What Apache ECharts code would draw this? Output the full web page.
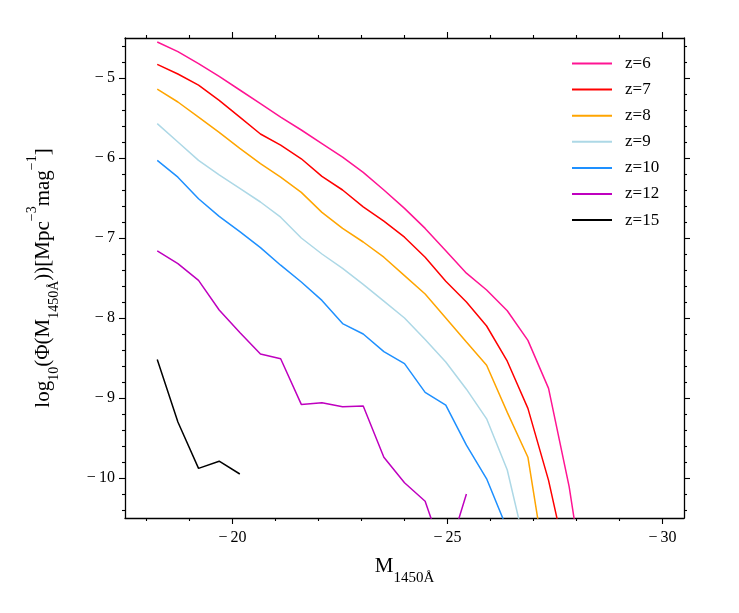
<!DOCTYPE html>
<html>
<head>
<meta charset="utf-8">
<script src="https://cdn.jsdelivr.net/npm/echarts@6/dist/echarts.min.js"></script>
<style>
html,body{margin:0;padding:0;background:#fff;}
#chart{width:739px;height:613px;}
</style>
</head>
<body>
<div id="chart"></div>
<script>
// Absolute magnitude grid (M_1450)
var magnitudes = [-18.25, -18.73, -19.21, -19.69, -20.17, -20.65, -21.12, -21.60, -22.08, -22.56, -23.04,
                  -23.52, -24.00, -24.48, -24.96, -25.44, -25.91, -26.39, -26.87, -27.35, -27.83, -28.31];

// log10 Phi per redshift
var z6  = [-4.55, -4.67, -4.82, -4.98, -5.15, -5.32, -5.49, -5.65, -5.82, -5.99, -6.18, -6.40, -6.63, -6.88, -7.16, -7.44, -7.65, -7.91, -8.28, -8.88, -10.11, -11.78];
var z7  = [-4.83, -4.95, -5.09, -5.28, -5.49, -5.70, -5.84, -6.01, -6.23, -6.40, -6.61, -6.79, -6.99, -7.24, -7.54, -7.80, -8.10, -8.54, -9.13, -10.03, -11.19];
var z8  = [-5.14, -5.30, -5.49, -5.68, -5.88, -6.07, -6.24, -6.43, -6.68, -6.88, -7.05, -7.24, -7.47, -7.70, -8.00, -8.30, -8.59, -9.18, -9.74, -11.35];
var z9  = [-5.57, -5.80, -6.03, -6.21, -6.38, -6.55, -6.74, -7.00, -7.20, -7.38, -7.58, -7.79, -8.00, -8.27, -8.55, -8.89, -9.26, -9.90, -11.00];
var z10 = [-6.03, -6.24, -6.51, -6.73, -6.92, -7.12, -7.34, -7.55, -7.78, -8.07, -8.20, -8.42, -8.57, -8.93, -9.09, -9.59, -10.01, -10.64];
var z12 = [-7.16, -7.32, -7.53, -7.90, -8.18, -8.45, -8.51, -9.08, -9.06, -9.11, -9.10, -9.74, -10.06, -10.29, -11.04, -10.20];
var z15 = [-8.52, -9.30, -9.88, -9.79, -9.95];

var seriesNames = ['z=6', 'z=7', 'z=8', 'z=9', 'z=10', 'z=12', 'z=15'];
var seriesValues = [z6, z7, z8, z9, z10, z12, z15];
var seriesColors = ['#ff1493', '#ff0000', '#ffa500', '#add8e6', '#1e90ff', '#bf00bf', '#000000'];

// Axis ticks
var xMajorTicks = [-20, -25, -30];
var yMajorTicks = [-5, -6, -7, -8, -9, -10];
var xMinorTicks = [];
for (var i = 18; i <= 30; i++) { if (i % 5 !== 0) xMinorTicks.push(-i); }
var yMinorTicks = [];
for (var j = 46; j <= 104; j += 2) { if (j % 10 !== 0) yMinorTicks.push(-j / 10); }

var FONT = 'Liberation Serif';
var XMIN = -30.5, XMAX = -17.5, YMIN = -10.5, YMAX = -4.5;

function fmt(v) { return (v < 0 ? '\u2212\u2009' : '') + Math.abs(v); }

function xAx(pos, ticks, len, showLabel, showLine, extra) {
  var a = {
    type: 'value', position: pos, min: XMIN, max: XMAX, inverse: true,
    splitLine: {show: false},
    axisLine: {show: showLine, onZero: false, lineStyle: {color: '#000', width: 1.3}},
    axisTick: {show: true, inside: false, length: len, customValues: ticks, lineStyle: {color: '#000', width: 1.1}},
    axisLabel: {show: showLabel, customValues: ticks, formatter: fmt, fontFamily: FONT, fontSize: 16, color: '#000', margin: 12}
  };
  if (extra) for (var k in extra) a[k] = extra[k];
  return a;
}
function yAx(pos, ticks, len, showLabel, showLine, extra) {
  var a = {
    type: 'value', position: pos, min: YMIN, max: YMAX,
    splitLine: {show: false},
    axisLine: {show: showLine, onZero: false, lineStyle: {color: '#000', width: 1.3}},
    axisTick: {show: true, inside: false, length: len, customValues: ticks, lineStyle: {color: '#000', width: 1.1}},
    axisLabel: {show: showLabel, customValues: ticks, formatter: fmt, fontFamily: FONT, fontSize: 16, color: '#000', margin: 10}
  };
  if (extra) for (var k in extra) a[k] = extra[k];
  return a;
}

var series = seriesNames.map(function (name, idx) {
  var vals = seriesValues[idx];
  return {
    name: name, type: 'line', xAxisIndex: 0, yAxisIndex: 0,
    symbol: 'none', clip: true, silent: true, animation: false,
    lineStyle: {color: seriesColors[idx], width: 1.5},
    itemStyle: {color: seriesColors[idx]},
    data: vals.map(function (v, i) { return [magnitudes[i], v]; })
  };
});

var chart = echarts.init(document.getElementById('chart'), null, {renderer: 'canvas'});
chart.setOption({
  animation: false,
  backgroundColor: '#fff',
  grid: {left: 125, right: 55, top: 38, bottom: 95, show: false},
  xAxis: [
    xAx('bottom', xMajorTicks, 6, true, true, {
      name: '{a|M}{s|1450Å}', nameLocation: 'middle', nameGap: 28,
      nameTextStyle: {
        rich: {
          a: {fontFamily: FONT, fontSize: 21, color: '#000', lineHeight: 40, verticalAlign: 'middle'},
          s: {fontFamily: FONT, fontSize: 15, color: '#000', lineHeight: 18, verticalAlign: 'bottom'}
        }
      }
    }),
    xAx('bottom', xMinorTicks, 3, false, false),
    xAx('top', xMajorTicks, 6, false, true),
    xAx('top', xMinorTicks, 3, false, false)
  ],
  yAxis: [
    yAx('left', yMajorTicks, 6, true, true, {
      name: '{a|log}{s|10}{a|(Φ(M}{t|1450Å}{a|))[Mpc}{p|−3}{a|mag}{p|−1}{a|]}',
      nameLocation: 'middle', nameGap: 64, nameRotate: 90,
      nameTextStyle: {
        rich: {
          a: {fontFamily: FONT, fontSize: 21, color: '#000', lineHeight: 36, verticalAlign: 'middle'},
          s: {fontFamily: FONT, fontSize: 14, color: '#000', lineHeight: 20, verticalAlign: 'bottom'},
          t: {fontFamily: FONT, fontSize: 14, color: '#000', lineHeight: 14, verticalAlign: 'bottom'},
          p: {fontFamily: FONT, fontSize: 14, color: '#000', lineHeight: 20, verticalAlign: 'top'}
        }
      }
    }),
    yAx('left', yMinorTicks, 3, false, false),
    yAx('right', yMajorTicks, 6, false, true),
    yAx('right', yMinorTicks, 3, false, false)
  ],
  legend: {
    orient: 'vertical', left: 567, top: 50,
    itemWidth: 40, itemHeight: 16, itemGap: 9.1,
    icon: 'path://M0,7 L40,7 L40,9 L0,9 Z',
    textStyle: {fontFamily: FONT, fontSize: 17, color: '#000', padding: [0, 0, 0, 8], lineHeight: 16},
    data: seriesNames,
    selectedMode: false
  },
  series: series
});
</script>
</body>
</html>
